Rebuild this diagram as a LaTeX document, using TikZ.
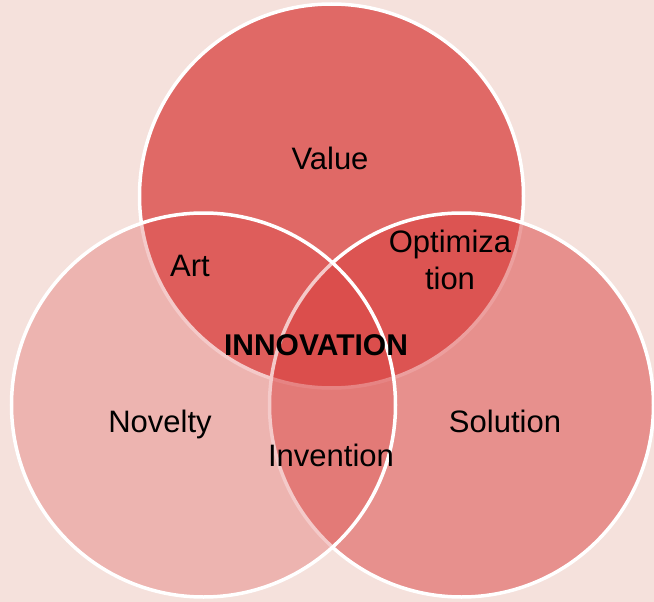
\documentclass[tikz,border=0pt]{standalone}
\usepackage{fontspec}
\setmainfont{Liberation Sans}
\definecolor{bgpink}{RGB}{245,225,220}
\definecolor{vennred}{RGB}{218,65,63}
\begin{document}
\begin{tikzpicture}[x=1pt,y=-1pt,
        ring/.style={fill=vennred, draw=white, line width=3.5pt},
        lbl/.style={font=\fontsize{31}{37}\selectfont, align=center, inner sep=0pt}]
        \fill[bgpink] (0,0) rectangle (654,602);
        \useasboundingbox (0,0) rectangle (654,602);

        \coordinate (V) at (331.5,196);
        \coordinate (S) at (461.5,405);
        \coordinate (N) at (203.5,405);

        \filldraw[ring, fill opacity=0.75] (V) circle (192pt);
        \filldraw[ring, fill opacity=0.5] (S) circle (192pt);
        \filldraw[ring, fill opacity=0.28] (N) circle (192pt);

        \node[lbl] (value) at (330,158) {Value};
        \node[lbl] (art) at (190,266) {Art};
        \node[lbl] (optim) at (450,260) {Optimiza\\tion};
        \node[lbl, font=\fontsize{30}{34}\selectfont\bfseries] (innov) at (316,345) {INNOVATION};
        \node[lbl] (novelty) at (160,424) {Novelty};
        \node[lbl] (invent) at (331,455) {Invention};
        \node[lbl] (solution) at (505,421) {Solution};
    \end{tikzpicture}
\end{document}
